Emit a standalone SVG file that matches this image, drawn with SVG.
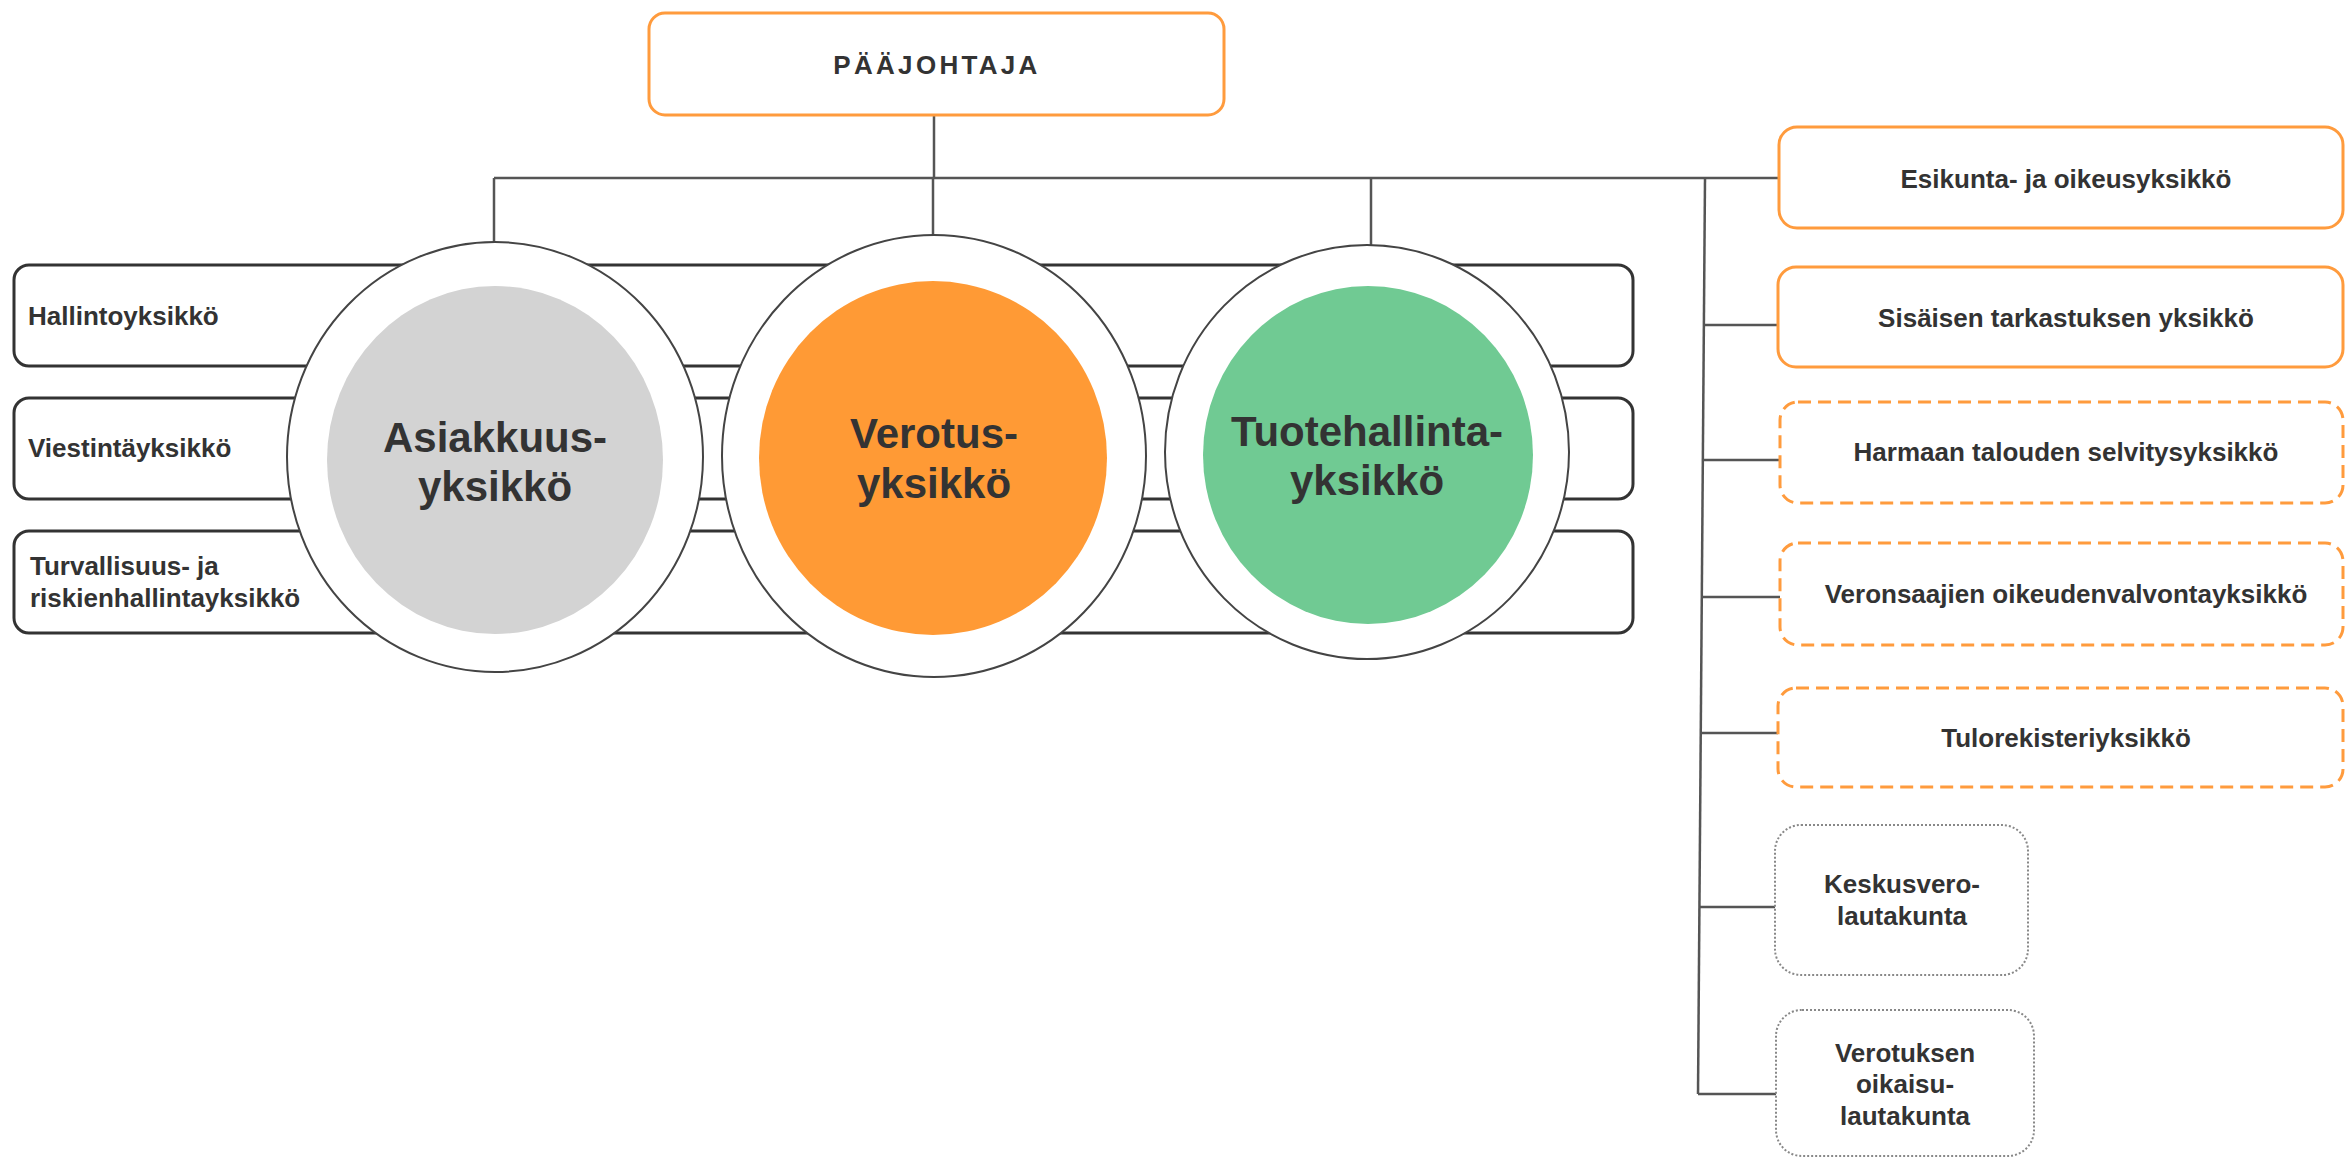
<svg xmlns="http://www.w3.org/2000/svg" width="2346" height="1158" viewBox="0 0 2346 1158">
<style>
text{font-family:"Liberation Sans",Arial,sans-serif;font-weight:bold;fill:#333;}
.t26{font-size:26px;}
.t42{font-size:42px;text-anchor:middle;}
.mid{text-anchor:middle;}
.conn{stroke:#555;stroke-width:2.5;fill:none;}
.side{fill:#fff;stroke:#333;stroke-width:3;}
.solid{fill:#fff;stroke:#FF9B3D;stroke-width:3;}
.dash{fill:#fff;stroke:#FF9B3D;stroke-width:3;stroke-dasharray:13 7;}
.dot{fill:#fff;stroke:#888;stroke-width:2;stroke-dasharray:2 2;}
.ring{fill:#fff;stroke:#444;stroke-width:2;}
</style>
<rect width="2346" height="1158" fill="#fff"/>
<g id="connectors">
<line class="conn" x1="934" y1="115" x2="934" y2="178"/>
<line class="conn" x1="494" y1="178" x2="1779" y2="178"/>
<line class="conn" x1="494" y1="178" x2="494" y2="245"/>
<line class="conn" x1="933" y1="178" x2="933" y2="237"/>
<line class="conn" x1="1371" y1="178" x2="1371" y2="247"/>
<line class="conn" x1="1705" y1="178" x2="1698" y2="1094"/>
<line class="conn" x1="1704" y1="325" x2="1778" y2="325"/>
<line class="conn" x1="1703" y1="460" x2="1780" y2="460"/>
<line class="conn" x1="1702" y1="597" x2="1780" y2="597"/>
<line class="conn" x1="1701" y1="733" x2="1778" y2="733"/>
<line class="conn" x1="1700" y1="907" x2="1775" y2="907"/>
<line class="conn" x1="1698" y1="1094" x2="1776" y2="1094"/>
</g>
<g id="paajohtaja">
<rect class="solid" x="649" y="13" width="575" height="102" rx="16"/>
<text class="mid" x="937" y="74" style="font-size:26px;letter-spacing:3.3px">PÄÄJOHTAJA</text>
</g>
<g id="hallintoyksikko">
<rect class="side" x="14" y="265" width="1619" height="101" rx="15"/>
<text class="t26" x="28" y="325">Hallintoyksikkö</text>
</g>
<g id="viestintayksikko">
<rect class="side" x="14" y="398" width="1619" height="101" rx="15"/>
<text class="t26" x="28" y="457">Viestintäyksikkö</text>
</g>
<g id="turvallisuus">
<rect class="side" x="14" y="531" width="1619" height="102" rx="15"/>
<text class="t26" x="30" y="575">Turvallisuus- ja</text>
<text class="t26" x="30" y="607">riskienhallintayksikkö</text>
</g>
<g id="asiakkuusyksikko">
<ellipse class="ring" cx="495" cy="457" rx="208" ry="215"/>
<ellipse cx="495" cy="460" rx="168" ry="174" fill="#D3D3D3"/>
<text class="t42" x="495" y="452">Asiakkuus-</text>
<text class="t42" x="495" y="501">yksikkö</text>
</g>
<g id="verotusyksikko">
<ellipse class="ring" cx="934" cy="456" rx="212" ry="221"/>
<ellipse cx="933" cy="458" rx="174" ry="177" fill="#FF9A35"/>
<text class="t42" x="934" y="448">Verotus-</text>
<text class="t42" x="934" y="498">yksikkö</text>
</g>
<g id="tuotehallintayksikko">
<ellipse class="ring" cx="1367" cy="452" rx="202" ry="207"/>
<ellipse cx="1368" cy="455" rx="165" ry="169" fill="#70CA93"/>
<text class="t42" x="1367" y="446">Tuotehallinta-</text>
<text class="t42" x="1367" y="495">yksikkö</text>
</g>
<g id="esikunta">
<rect class="solid" x="1779" y="127" width="564" height="101" rx="18"/>
<text class="t26 mid" x="2066" y="188">Esikunta- ja oikeusyksikkö</text>
</g>
<g id="sisainen-tarkastus">
<rect class="solid" x="1778" y="267" width="565" height="100" rx="18"/>
<text class="t26 mid" x="2066" y="327">Sisäisen tarkastuksen yksikkö</text>
</g>
<g id="harmaa-talous">
<rect class="dash" x="1780" y="402" width="563" height="101" rx="18"/>
<text class="t26 mid" x="2066" y="461">Harmaan talouden selvitysyksikkö</text>
</g>
<g id="veronsaajat">
<rect class="dash" x="1780" y="543" width="563" height="102" rx="18"/>
<text class="t26 mid" x="2066" y="603">Veronsaajien oikeudenvalvontayksikkö</text>
</g>
<g id="tulorekisteri">
<rect class="dash" x="1778" y="688" width="565" height="99" rx="18"/>
<text class="t26 mid" x="2066" y="747">Tulorekisteriyksikkö</text>
</g>
<g id="keskusverolautakunta">
<rect class="dot" x="1775" y="825" width="253" height="150" rx="26"/>
<text class="t26 mid" x="1902" y="893">Keskusvero-</text>
<text class="t26 mid" x="1902" y="925">lautakunta</text>
</g>
<g id="oikaisulautakunta">
<rect class="dot" x="1776" y="1010" width="258" height="146" rx="26"/>
<text class="t26 mid" x="1905" y="1062">Verotuksen</text>
<text class="t26 mid" x="1905" y="1093">oikaisu-</text>
<text class="t26 mid" x="1905" y="1125">lautakunta</text>
</g>
</svg>
